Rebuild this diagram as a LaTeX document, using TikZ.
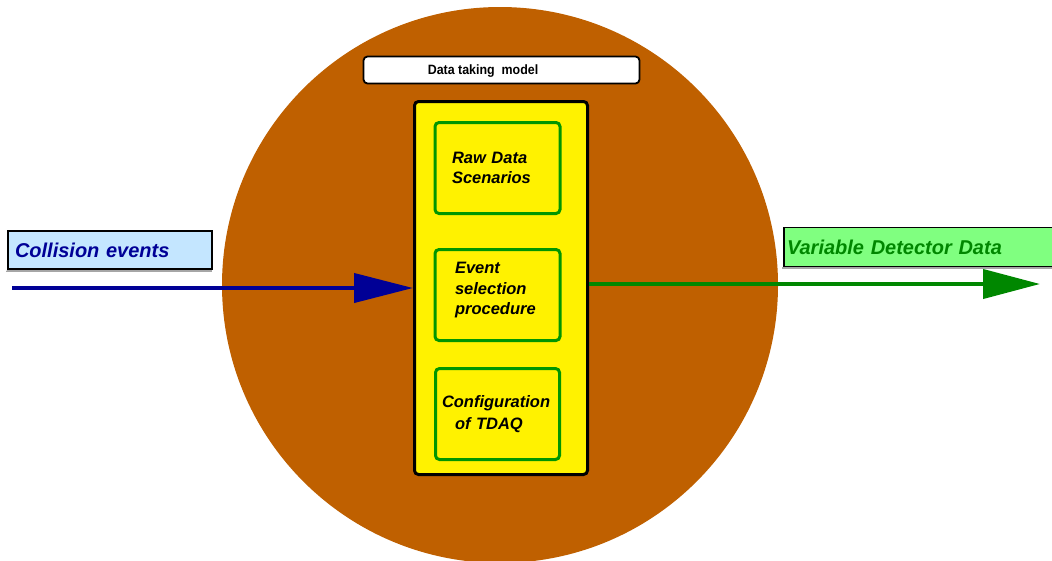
\documentclass[tikz,border=0pt]{standalone}
\usepackage{fontspec}
\setmainfont{Liberation Sans}
\newfontfamily\narrowsans{Liberation Sans}[FakeStretch=0.92]
\usetikzlibrary{arrows.meta}
\definecolor{rust}{RGB}{191,96,0}
\definecolor{navy}{RGB}{0,0,150}
\definecolor{lightblue}{RGB}{196,230,255}
\definecolor{lightgreen}{RGB}{128,255,128}
\definecolor{darkgreen}{RGB}{0,135,0}
\definecolor{boxgreen}{RGB}{0,150,0}
\begin{document}
\begin{tikzpicture}[x=1pt,y=-1pt,
  world/.style={circle,fill=rust,minimum size=556pt,inner sep=0pt},
  titlebox/.style={draw=black,line width=1.8pt,fill=white,rounded corners=4pt,minimum width=276pt,minimum height=27pt},
  modelbox/.style={draw=black,line width=3pt,fill=yellow,rounded corners=4pt,minimum width=173pt,minimum height=373pt},
  stepbox/.style={draw=boxgreen,line width=3pt,fill=yellow,rounded corners=4pt,minimum width=124pt,minimum height=91pt,
    align=left,font=\bfseries\itshape\fontsize{16.5}{20.5}\selectfont,text=black},
  inbox/.style={draw=black,line width=1.5pt,fill=lightblue,minimum width=204pt,minimum height=38pt,
    text=navy,font=\bfseries\itshape\fontsize{20}{24}\selectfont,align=left},
  outbox/.style={draw=black,line width=1.5pt,fill=lightgreen,minimum height=39pt,
    text=darkgreen,font=\bfseries\itshape\fontsize{20}{24}\selectfont,align=left},
  shade/.style={draw=black!35,line width=1.5pt},
  inarrow/.style={draw=navy,line width=4pt,-{Triangle[length=59pt,width=29pt]}},
  outarrow/.style={draw=darkgreen,line width=4pt,-{Triangle[length=57pt,width=29pt]}}
]
\useasboundingbox (0,0) rectangle (1052,560);
\begin{scope}
\clip (0,0) rectangle (1052,560);
\node[world] (world) at (500,285) {};
\node[titlebox] (title) at (501.5,70) {};
\node[font=\narrowsans\bfseries\fontsize{13.5}{16}\selectfont] (titletext) at (483,71) {Data taking\ \ model};
\node[modelbox] (model) at (501,288) {};
\node[stepbox,text width=91pt,inner xsep=17pt] (raw) at (497.5,168) {Raw Data\\Scenarios};
\node[stepbox,text width=85pt,inner xsep=20pt] (sel) at (497.5,295) {Event\\selection\\procedure\\[-7.5pt]\mbox{}};
\node[stepbox,text width=111pt,inner xsep=6.5pt] (conf) at (497.5,414) {Configuration\\[2pt]\hspace*{13pt}of TDAQ};
\draw[shade] (7,270.5) -- (7,271) -- (212,271);
\node[inbox,text width=190pt,inner xsep=7pt] (coll) at (110,250) {Collision events};
\draw[shade] (783,266.5) -- (783,268) -- (1052,268);
\node[outbox,text width=270pt,inner xsep=3pt] (var) at (922,247) {\raisebox{-3pt}{Variable Detector Data}};
\coordinate (in) at (12,288);
\coordinate (out) at (1040,284);
\draw[inarrow] (in) -- (model.west);
\draw[outarrow] (model.east |- out) -- (out);
\end{scope}
\end{tikzpicture}
\end{document}
